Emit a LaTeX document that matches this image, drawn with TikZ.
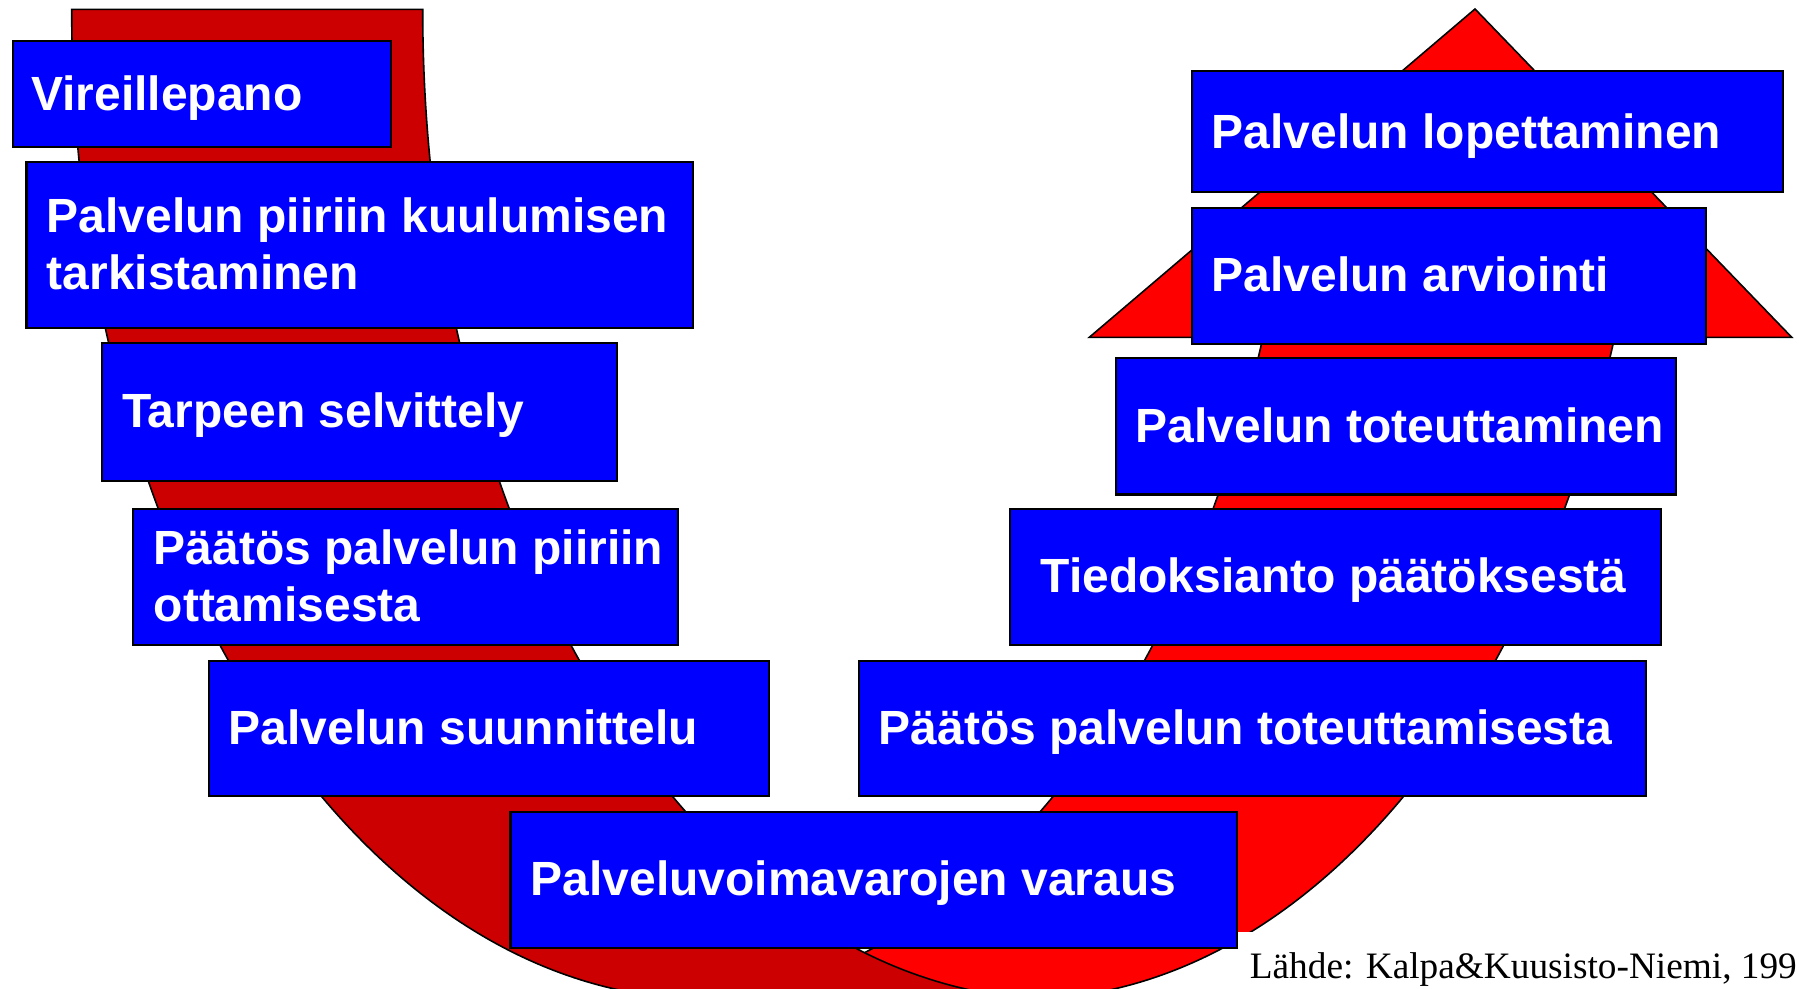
\documentclass[tikz,border=0pt]{standalone}
\usepackage{fontspec}
\setmainfont{Liberation Serif}
\setsansfont{Liberation Sans}
\definecolor{boxblue}{RGB}{0,0,255}
\definecolor{darkband}{RGB}{204,0,0}
\definecolor{brightband}{RGB}{255,0,0}
\begin{document}
\begin{tikzpicture}[x=1pt,y=-1pt,
  stepbox/.style={draw=black, line width=2.3pt, fill=boxblue, rectangle, inner sep=0pt, anchor=north west},
  lbl/.style={text=white, font=\sffamily\bfseries\fontsize{48}{57.7}\selectfont, anchor=base west, inner sep=0pt},
  band/.style={draw=black, line width=1.6pt, line join=miter},
  src/.style={font=\rmfamily\fontsize{37.3}{40}\selectfont, anchor=base east, inner sep=0pt}]
\useasboundingbox (0,0) rectangle (1799,988);
\begin{scope}
  \clip (0,0) rectangle (1799,988);
  % front (bright) part of the curved arrow with its head
  \filldraw[band, fill=brightband]
    (1475,9) -- (1791.7,337.3) -- (1614.6,337.3)
    arc[start angle=19.35, end angle=90, x radius=626.3, y radius=990]
    -- (675.6,999.3)
    arc[start angle=90, end angle=19.35, x radius=622.5, y radius=990]
    -- (1089.3,337.3) -- cycle;
  % back (dark) part of the curved arrow
  \filldraw[band, fill=darkband]
    (71.7,9.3) -- (422.7,9.3)
    arc[start angle=180, end angle=90, x radius=635, y radius=990]
    -- (706.7,999.3)
    arc[start angle=90, end angle=180, x radius=635, y radius=990]
    -- cycle;
\end{scope}

% boxes
\node[stepbox, minimum width=378.5pt, minimum height=105.7pt] (b1) at (11.5,40) {};
\node[stepbox, minimum width=666.6pt, minimum height=166.4pt] (b2) at (25.2,160.6) {};
\node[stepbox, minimum width=515pt, minimum height=137.6pt] (b3) at (101,342) {};
\node[stepbox, minimum width=545pt, minimum height=135.6pt] (b4) at (132,508) {};
\node[stepbox, minimum width=559.8pt, minimum height=135.3pt] (b5) at (207.7,659.7) {};
\node[stepbox, minimum width=726.2pt, minimum height=135.5pt] (b6) at (509.4,811) {};
\node[stepbox, minimum width=787pt, minimum height=135.3pt] (b7) at (858,659.7) {};
\node[stepbox, minimum width=651.5pt, minimum height=135.6pt] (b8) at (1008.5,508) {};
\node[stepbox, minimum width=560pt, minimum height=136.5pt] (b9) at (1115,356.8) {};
\node[stepbox, minimum width=514pt, minimum height=136.5pt] (b10) at (1191,206.5) {};
\node[stepbox, minimum width=591pt, minimum height=120.5pt] (b11) at (1191,70) {};

% labels
\node[lbl] (t1) at (31,110) {Vireillepano};
\node[lbl] (t2a) at (46.5,232) {Palvelun piiriin kuulumisen};
\node[lbl] (t2b) at (46.5,289.7) {tarkistaminen};
\node[lbl] (t3) at (122,427.9) {Tarpeen selvittely};
\node[lbl] (t4a) at (153.5,564) {Päätös palvelun piiriin};
\node[lbl] (t4b) at (153.5,621.7) {ottamisesta};
\node[lbl] (t5) at (228.5,744.5) {Palvelun suunnittelu};
\node[lbl] (t6) at (530.5,895.9) {Palveluvoimavarojen varaus};
\node[lbl] (t7) at (878.5,744.5) {Päätös palvelun toteuttamisesta};
\node[lbl] (t8) at (1040.5,592.9) {Tiedoksianto päätöksestä};
\node[lbl] (t9) at (1135.5,442.1) {Palvelun toteuttaminen};
\node[lbl] (t10) at (1211.5,291.9) {Palvelun arviointi};
\node[lbl] (t11) at (1211.5,148) {Palvelun lopettaminen};

% source
\fill[white] (1237.5,931.7) rectangle (1799,988);
\node[src] (source) at (1797,978) {Lähde: Kalpa\&Kuusisto-Niemi, 199};
\end{tikzpicture}
\end{document}
